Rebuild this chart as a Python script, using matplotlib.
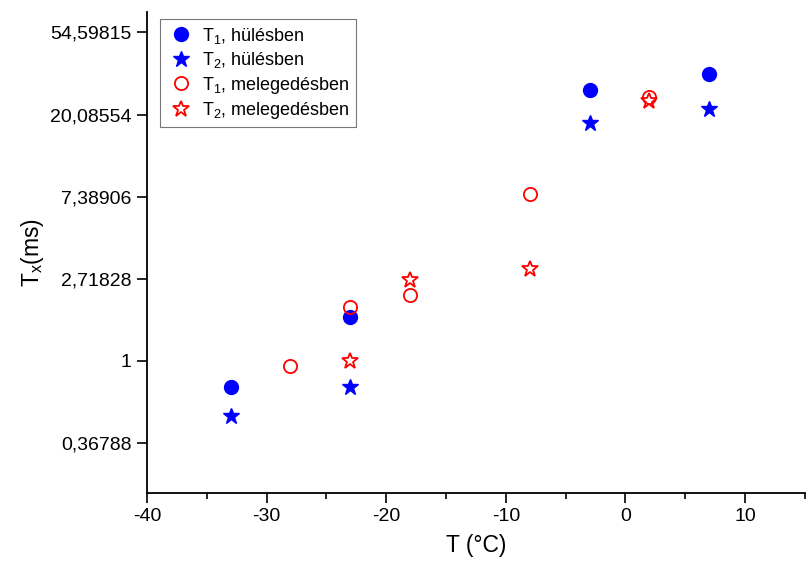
import numpy as np
import matplotlib
matplotlib.use("Agg")
import matplotlib.pyplot as plt
from matplotlib.ticker import FixedLocator, MultipleLocator, NullLocator

plt.rcParams['font.family'] = ['Liberation Sans', 'DejaVu Sans']
plt.rcParams['axes.unicode_minus'] = False
plt.rcParams['mathtext.fontset'] = 'custom'
plt.rcParams['mathtext.rm'] = 'Liberation Sans'
plt.rcParams['mathtext.it'] = 'Liberation Sans'

# Data
t1_cool_x = [-33, -23, -3, 7]
t1_cool_y = [0.73, 1.71, 27.0, 32.9]
t2_cool_x = [-33, -23, -3, 7]
t2_cool_y = [0.51, 0.73, 18.1, 21.5]
t1_warm_x = [-28, -23, -18, -8, 2]
t1_warm_y = [0.94, 1.93, 2.23, 7.63, 24.8]
t2_warm_x = [-23, -18, -8, 2]
t2_warm_y = [1.0, 2.68, 3.06, 23.6]

ytick_vals = [0.36788, 1, 2.71828, 7.38906, 20.08554, 54.59815]
ytick_labels = ["0,36788", "1", "2,71828", "7,38906", "20,08554", "54,59815"]
xtick_vals = [-40, -30, -20, -10, 0, 10]

fig = plt.figure(figsize=(8.07, 5.73), dpi=100)
ax = fig.add_axes([0.182, 0.1396, 0.8155, 0.8394])

ms = 10
ax.plot(t1_cool_x, t1_cool_y, 'o', color='#0000ff', ms=ms, label=r'T$_\mathrm{1}$, hülésben')
ax.plot(t2_cool_x, t2_cool_y, '*', color='#0000ff', ms=ms + 2, label=r'T$_\mathrm{2}$, hülésben')
ax.plot(t1_warm_x, t1_warm_y, 'o', mfc='none', mec='#ff0000', mew=1.3, ms=ms - 0.5,
        label=r'T$_\mathrm{1}$, melegedésben')
ax.plot(t2_warm_x, t2_warm_y, '*', mfc='none', mec='#ff0000', mew=1.3, ms=ms + 2,
        label=r'T$_\mathrm{2}$, melegedésben')

ax.set_yscale('log')
ax.set_ylim(0.2, 70)
ax.set_xlim(-40, 15)
ax.yaxis.set_major_locator(FixedLocator(ytick_vals))
ax.set_yticklabels(ytick_labels)
ax.yaxis.set_minor_locator(NullLocator())
ax.xaxis.set_major_locator(FixedLocator(xtick_vals))
ax.xaxis.set_minor_locator(MultipleLocator(5))

for s in ['top', 'right']:
    ax.spines[s].set_visible(False)
for s in ['left', 'bottom']:
    ax.spines[s].set_linewidth(1.3)

ax.tick_params(axis='both', which='major', direction='out', length=7, width=1.2,
               labelsize=14, colors='black', pad=4)
ax.tick_params(axis='x', which='minor', direction='out', length=4, width=1.2)

ax.set_xlabel('T (°C)', fontsize=16.5, labelpad=6)
ax.set_ylabel(r'T$_\mathrm{x}$(ms)', fontsize=16.5, labelpad=3)

leg = ax.legend(loc='upper left', bbox_to_anchor=(0.02, 0.985), fontsize=13,
                frameon=True, fancybox=False, edgecolor='#555555',
                handletextpad=0.4, borderpad=0.35, labelspacing=0.25,
                handlelength=1.6, borderaxespad=0)
leg.get_frame().set_linewidth(0.8)

fig.savefig('out.png', dpi=100)
